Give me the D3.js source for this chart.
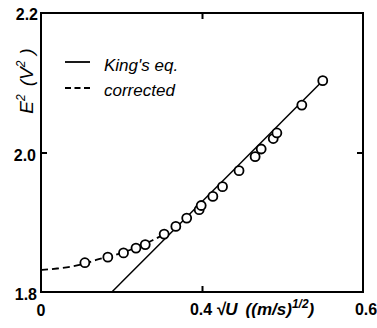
<!DOCTYPE html>
<html><head><meta charset="utf-8">
<script src="https://cdn.jsdelivr.net/npm/d3@7"></script>
<style>body{margin:0;background:#fff}</style>
</head><body>
<svg id="c" width="377" height="328"></svg>
<script>
// measured points: x = sqrt(U) ((m/s)^1/2), y = E^2 (V^2)
const sqrtU = [0.109,0.166,0.205,0.236,0.259,0.306,0.335,0.362,0.393,0.398,0.427,0.451,0.492,0.532,0.547,0.577,0.586,0.648,0.700];
const E2    = [1.842,1.850,1.856,1.863,1.868,1.883,1.894,1.906,1.918,1.924,1.937,1.951,1.974,1.994,2.005,2.020,2.028,2.068,2.103];
// King's law line (end points)
const kingX = [0.176, 0.700];
const kingY = [1.800, 2.103];
// corrected curve
const corrX = [0.000,0.040,0.077,0.109,0.137,0.184,0.221,0.276,0.310];
const corrY = [1.8315,1.8337,1.8366,1.8409,1.8459,1.853,1.8602,1.8738,1.8840];
// ticks
const xTicks = [0, 0.4, 0.8];
const xTickLabels = ["0", "0.4", "0.6"];
const yTicks = [1.8, 2.0, 2.2];
const yTickLabels = ["1.8", "2.0", "2.2"];
const legendLabels = ["King's eq.", "corrected"];

const svg = d3.select("#c");
const L = 41, R = 363, T = 13, B = 292;
const x = d3.scaleLinear().domain([0, 0.8]).range([L, R]);
const y = d3.scaleLinear().domain([1.8, 2.2]).range([B, T]);

const font = "'Liberation Sans', Arial, sans-serif";

// frame
svg.append("rect").attr("x", L).attr("y", T).attr("width", R - L).attr("height", B - T)
  .attr("fill", "none").attr("stroke", "#000").attr("stroke-width", 2);

// inward ticks via axes
const midX = [xTicks[1]], midY = [yTicks[1]];
const axB = svg.append("g").attr("transform", `translate(0,${B})`)
  .call(d3.axisBottom(x).tickValues(midX).tickSize(-6).tickSizeOuter(0).tickFormat(""));
const axT = svg.append("g").attr("transform", `translate(0,${T})`)
  .call(d3.axisTop(x).tickValues(midX).tickSize(-6).tickSizeOuter(0).tickFormat(""));
const axL = svg.append("g").attr("transform", `translate(${L},0)`)
  .call(d3.axisLeft(y).tickValues(midY).tickSize(-6).tickSizeOuter(0).tickFormat(""));
const axR = svg.append("g").attr("transform", `translate(${R},0)`)
  .call(d3.axisRight(y).tickValues(midY).tickSize(-6).tickSizeOuter(0).tickFormat(""));
[axB, axT, axL, axR].forEach(a => {
  a.select(".domain").remove();
  a.selectAll(".tick line").attr("stroke", "#000").attr("stroke-width", 2);
});

// tick labels
const tl = svg.append("g").attr("font-family", font).attr("font-size", 16)
  .attr("font-weight", "bold").attr("fill", "#000");
const yLabOff = [[-4, 8], [-5, 8], [-3, 7]];
yTicks.forEach((v, i) => {
  tl.append("text").attr("x", L + yLabOff[i][0]).attr("y", y(v) + yLabOff[i][1])
    .attr("text-anchor", "end").text(yTickLabels[i]);
});
const xLabOff = [[0, 24], [-1, 23], [3, 23]];
xTicks.forEach((v, i) => {
  tl.append("text").attr("x", x(v) + xLabOff[i][0]).attr("y", B + xLabOff[i][1])
    .attr("text-anchor", "middle").text(xTickLabels[i]);
});

// x axis title
const xt = svg.append("text").attr("x", 216).attr("y", B + 23)
  .attr("font-family", font).attr("font-size", 17).attr("font-style", "italic").attr("font-weight", "bold");
xt.append("tspan").text("\u221AU");
xt.append("tspan").attr("dx", 8).text("((m/s)");
xt.append("tspan").attr("font-size", 12).attr("dy", -7).text("1/2");
xt.append("tspan").attr("dy", 7).text(")");

// y axis title
const yt = svg.append("text").attr("transform", "translate(33,81) rotate(-90)")
  .attr("text-anchor", "middle").attr("font-family", font).attr("font-size", 19).attr("font-style", "italic");
yt.append("tspan").text("E");
yt.append("tspan").attr("font-size", 12).attr("dy", -8).text("2");
yt.append("tspan").attr("dy", 8).attr("dx", 8).text("(V");
yt.append("tspan").attr("font-size", 12).attr("dy", -8).text("2");
yt.append("tspan").attr("dy", 8).attr("dx", 6).text(")");

// lines
const line = d3.line().x(d => x(d[0])).y(d => y(d[1]));
svg.append("path").datum(d3.zip(kingX, kingY)).attr("d", line)
  .attr("fill", "none").attr("stroke", "#000").attr("stroke-width", 1.5);
svg.append("path").datum(d3.zip(corrX, corrY)).attr("d", line.curve(d3.curveMonotoneX))
  .attr("fill", "none").attr("stroke", "#000").attr("stroke-width", 1.8).attr("stroke-dasharray", "7,4");

// points
svg.append("g").selectAll("circle").data(d3.zip(sqrtU, E2)).join("circle")
  .attr("cx", d => x(d[0])).attr("cy", d => y(d[1])).attr("r", 4.5)
  .attr("fill", "#fff").attr("stroke", "#000").attr("stroke-width", 1.8);

// legend
const lg = svg.append("g");
lg.append("line").attr("x1", 65).attr("x2", 90).attr("y1", 62).attr("y2", 62)
  .attr("stroke", "#000").attr("stroke-width", 1.8);
lg.append("line").attr("x1", 65).attr("x2", 90).attr("y1", 88).attr("y2", 88)
  .attr("stroke", "#000").attr("stroke-width", 1.8).attr("stroke-dasharray", "6,3.5");
lg.append("text").attr("x", 104).attr("y", 71).attr("font-family", font).attr("font-size", 17)
  .attr("font-style", "italic").text(legendLabels[0]);
lg.append("text").attr("x", 104).attr("y", 96).attr("font-family", font).attr("font-size", 17)
  .attr("font-style", "italic").text(legendLabels[1]);
</script>
</body></html>
